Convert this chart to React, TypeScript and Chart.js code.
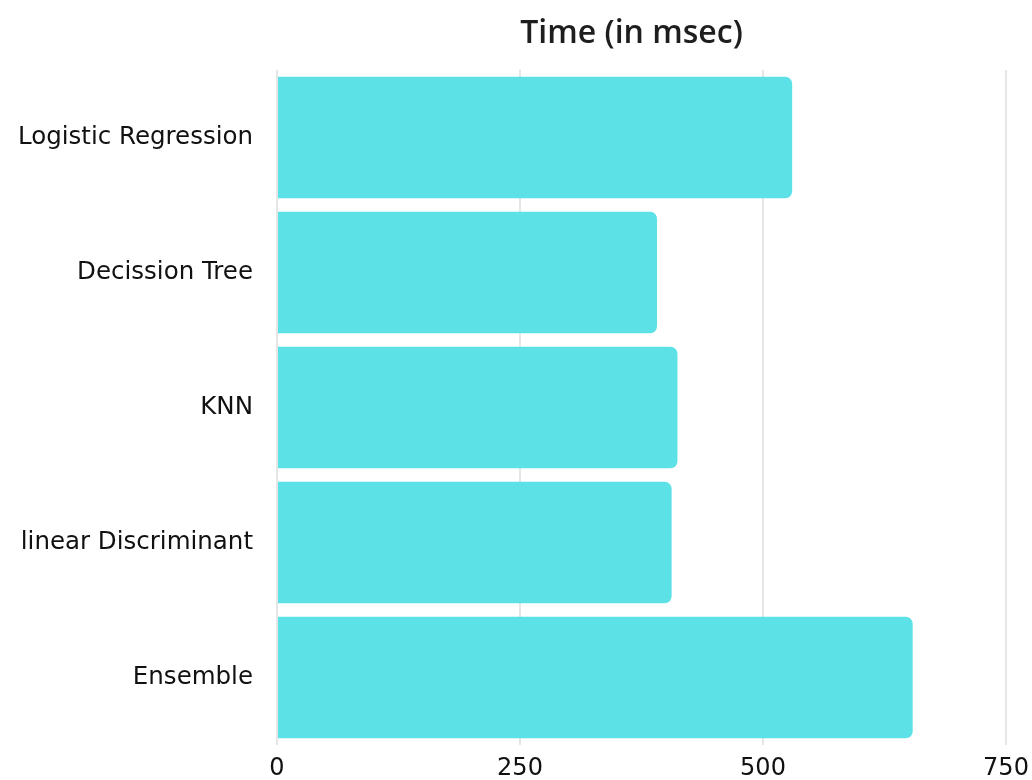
import React, { useEffect, useRef } from "react";
import { Chart, registerables } from "chart.js";

Chart.register(...registerables);

const categories: string[] = [
  "Logistic Regression",
  "Decission Tree",
  "KNN",
  "linear Discriminant",
  "Ensemble",
];
const timeMsec: number[] = [530, 391, 412, 406, 654];
const xTicks: number[] = [0, 250, 500, 750];
const chartTitle = "Time (in msec)";

// Nudges the heading a little left of the plot's centre line.
const titleNudge = {
  id: "titleNudge",
  afterLayout(chart: any) {
    const s = chart.scales.x2;
    if (s) s.left -= 20;
  },
};

export default function App() {
  const canvasRef = useRef<HTMLCanvasElement | null>(null);

  useEffect(() => {
    if (!canvasRef.current) return;
    const chart = new Chart(canvasRef.current, {
      type: "bar",
      data: {
        labels: categories,
        datasets: [
          {
            data: timeMsec,
            backgroundColor: "#5ce1e6",
            borderRadius: 7,
            borderSkipped: "start",
            barPercentage: 0.9,
            categoryPercentage: 1,
          },
        ],
      },
      options: {
        indexAxis: "y",
        animation: false,
        responsive: true,
        maintainAspectRatio: false,
        layout: { padding: 0 },
        plugins: {
          legend: { display: false },
          tooltip: { enabled: false },
        },
        scales: {
          x: {
            min: 0,
            max: 750,
            afterBuildTicks: (axis: any) => {
              axis.ticks = xTicks.map((v) => ({ value: v }));
            },
            afterFit: (axis: any) => {
              axis.height = 35;
              axis.paddingRight = 26;
            },
            grid: { color: "#e6e6e6", lineWidth: 2, drawTicks: false },
            border: { display: false },
            ticks: {
              padding: 9,
              color: "#111",
              font: { family: "'DejaVu Sans'", size: 24 },
            },
          },
          x2: {
            position: "top",
            min: 0,
            max: 750,
            afterFit: (axis: any) => {
              axis.height = 70;
            },
            grid: { display: false },
            border: { display: false },
            ticks: { display: false },
            title: {
              display: true,
              text: chartTitle,
              color: "#1e1e1e",
              padding: { top: 15, bottom: 10 },
              font: { family: "'Open Sans'", size: 32, weight: "600" },
            },
          },
          y: {
            grid: { display: false, drawTicks: false },
            border: { display: false },
            afterFit: (axis: any) => {
              axis.width = 277;
              axis.paddingTop = 0;
              axis.paddingBottom = 0;
            },
            ticks: {
              padding: 24,
              color: "#111",
              font: { family: "'DejaVu Sans'", size: 24.5 },
            },
          },
        },
      },
      plugins: [titleNudge],
    });
    return () => chart.destroy();
  }, []);

  return (
    <div style={{ position: "fixed", left: 0, top: 0, width: 1032, height: 780 }}>
      <canvas ref={canvasRef} />
    </div>
  );
}
